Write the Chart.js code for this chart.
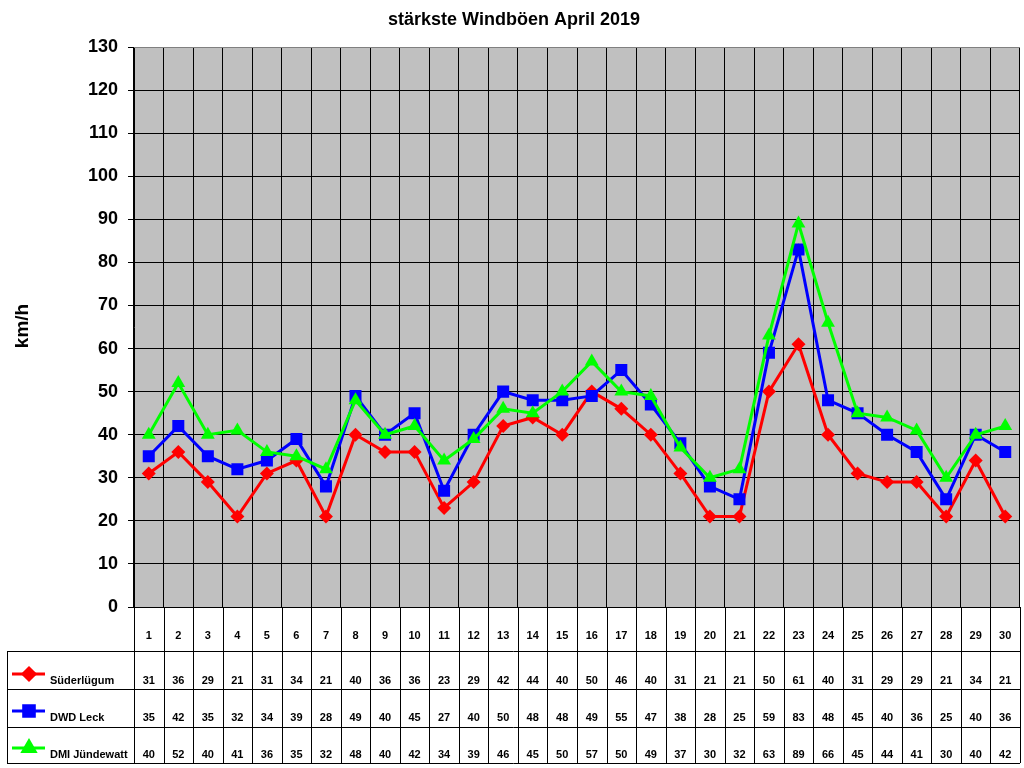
<!DOCTYPE html>
<html>
<head>
<meta charset="utf-8">
<script src="https://cdn.jsdelivr.net/npm/chart.js@4/dist/chart.umd.min.js"></script>
<style>
html,body{margin:0;padding:0;background:#fff;}
canvas{display:block;}
</style>
</head>
<body>
<canvas id="c" width="1024" height="768"></canvas>
<script>
const days = ['1','2','3','4','5','6','7','8','9','10','11','12','13','14','15','16','17','18','19','20','21','22','23','24','25','26','27','28','29','30'];
const suederluegum = [31,36,29,21,31,34,21,40,36,36,23,29,42,44,40,50,46,40,31,21,21,50,61,40,31,29,29,21,34,21];
const dwdLeck = [35,42,35,32,34,39,28,49,40,45,27,40,50,48,48,49,55,47,38,28,25,59,83,48,45,40,36,25,40,36];
const dmiJuendewatt = [40,52,40,41,36,35,32,48,40,42,34,39,46,45,50,57,50,49,37,30,32,63,89,66,45,44,41,30,40,42];
const seriesNames = ['Süderlügum','DWD Leck','DMI Jündewatt'];
const yTicks = {min:0, max:130, step:10};
const chartTitle = 'stärkste Windböen April 2019';
const yTitle = 'km/h';

const FONT = 'Arial, "Liberation Sans", sans-serif';
const colors = ['#FF0000','#0000FF','#00FF00'];
const styles = ['rectRot','rect','triangle'];
const radii = [7,8.5,8];
const seriesData = [suederluegum, dwdLeck, dmiJuendewatt];

const bgPlugin = {
  id:'bg',
  beforeDraw(chart){
    const ctx = chart.ctx, a = chart.chartArea;
    ctx.save();
    ctx.fillStyle = '#fff';
    ctx.fillRect(0,0,chart.width,chart.height);
    ctx.fillStyle = '#C0C0C0';
    ctx.fillRect(a.left,a.top,a.right-a.left,a.bottom-a.top);
    ctx.restore();
  }
};

const tablePlugin = {
  id:'table',
  afterDraw(chart){
    const ctx = chart.ctx, a = chart.chartArea, xs = chart.scales.x;
    const n = days.length;
    const w = (a.right - a.left)/n;
    const rowY = [a.bottom, 651, 689, 727, 763];
    ctx.save();
    ctx.strokeStyle = '#808080';
    ctx.lineWidth = 1;
    ctx.beginPath();
    ctx.moveTo(a.left, a.top+0.5); ctx.lineTo(a.right, a.top+0.5);
    ctx.stroke();
    ctx.strokeStyle = '#000';
    ctx.beginPath();
    for(let i=0;i<=n;i++){
      const x = Math.round(a.left + i*w)+0.5;
      ctx.moveTo(x, a.bottom); ctx.lineTo(x, rowY[4]);
    }
    for(let r=1;r<rowY.length;r++){
      ctx.moveTo(7, rowY[r]+0.5); ctx.lineTo(a.right, rowY[r]+0.5);
    }
    ctx.moveTo(7.5, rowY[1]); ctx.lineTo(7.5, rowY[4]);
    ctx.stroke();

    ctx.fillStyle = '#000';
    ctx.font = 'bold 11px ' + FONT;
    ctx.textAlign = 'center';
    ctx.textBaseline = 'middle';
    days.forEach((d,i)=>{
      ctx.fillText(d, xs.getPixelForValue(i), 636);
    });
    const valY = [681, 718, 755];
    seriesData.forEach((arr,s)=>{
      arr.forEach((v,i)=>{
        ctx.fillText(String(Math.round(v)), xs.getPixelForValue(i), valY[s]);
      });
    });
    ctx.textAlign = 'left';
    seriesNames.forEach((nm,s)=>{
      const ly = valY[s]-7;
      ctx.strokeStyle = colors[s];
      ctx.lineWidth = 3;
      ctx.beginPath(); ctx.moveTo(12, ly); ctx.lineTo(45, ly); ctx.stroke();
      Chart.helpers.drawPoint(ctx, {pointStyle:styles[s], radius:radii[s]-1, borderWidth:1}, 29, ly);
      ctx.fillStyle = colors[s];
      ctx.fill();
      ctx.fillStyle = '#000';
      ctx.fillText(nm, 50, valY[s]);
    });
    ctx.font = 'bold 18px ' + FONT;
    ctx.textAlign = 'center';
    ctx.fillText(chartTitle, 514, 20);
    ctx.font = 'bold 19px ' + FONT;
    ctx.translate(23, 326);
    ctx.rotate(-Math.PI/2);
    ctx.fillText(yTitle, 0, 0);
    ctx.restore();
  }
};

new Chart(document.getElementById('c'), {
  type:'line',
  data:{
    labels: days,
    datasets: seriesData.map((arr,s)=>({
      label: seriesNames[s],
      data: arr,
      borderColor: colors[s],
      backgroundColor: colors[s],
      borderWidth: 3,
      pointStyle: styles[s],
      pointRadius: radii[s],
      pointBorderWidth: 0,
      pointBackgroundColor: colors[s],
      tension: 0,
      fill: false,
      order: 2 - s
    }))
  },
  options:{
    responsive:false,
    animation:false,
    devicePixelRatio:1,
    layout:{autoPadding:false, padding:{left:0,right:4,top:47,bottom:161}},
    plugins:{legend:{display:false}, title:{display:false}, tooltip:{enabled:false}},
    scales:{
      x:{
        type:'category',
        offset:true,
        grid:{offset:true, color:'#000', lineWidth:1, drawTicks:false},
        border:{color:'#000'},
        ticks:{display:false},
        afterFit(scale){ scale.height = 0; scale.paddingRight = 0; scale.paddingLeft = 0; }
      },
      y:{
        min:yTicks.min, max:yTicks.max,
        grid:{color:'#000', lineWidth:1, tickLength:6},
        border:{color:'#000'},
        ticks:{stepSize:yTicks.step, color:'#000', padding:10, font:{family:FONT, size:18, weight:'bold'}},
        afterFit(scale){ scale.width = 134; }
      }
    }
  },
  plugins:[bgPlugin, tablePlugin]
});
</script>
</body>
</html>
